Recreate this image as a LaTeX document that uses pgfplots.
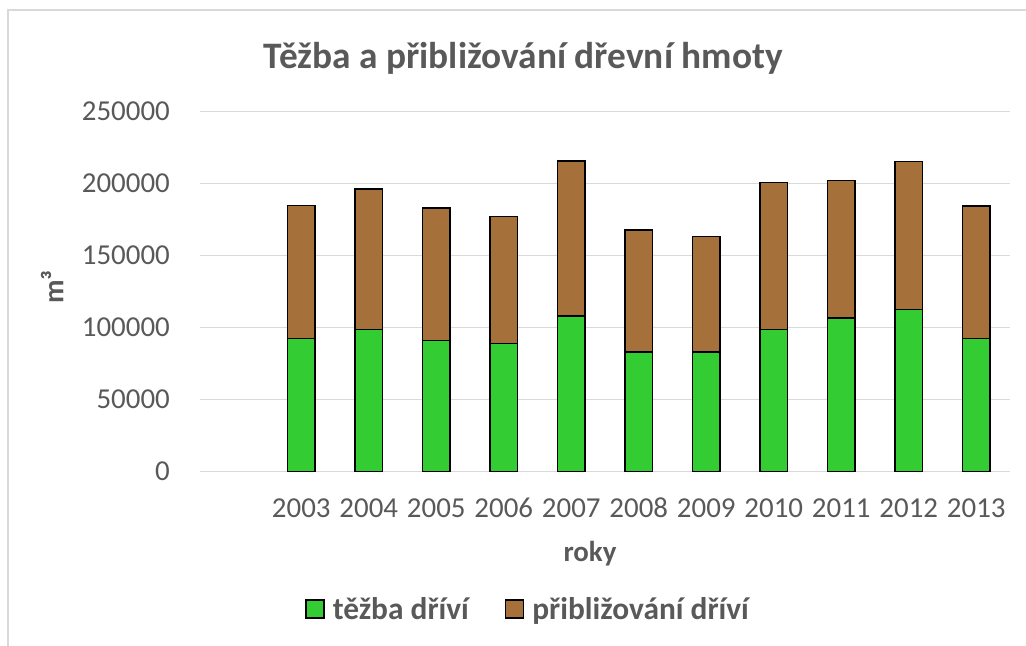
\documentclass[border=0pt]{standalone}
\usepackage{fontspec}
\setmainfont{Carlito}
\usepackage{pgfplots}
\usepackage{pgfplotstable}
\pgfplotsset{compat=1.18}
\definecolor{tgray}{HTML}{595959}
\definecolor{ggrid}{HTML}{D9D9D9}
\definecolor{bgreen}{HTML}{33CC33}
\definecolor{bbrown}{HTML}{A6703A}
\pgfplotstableread{
x green brown
1 92360 92340
2 98600 97700
3 91250 92050
4 88900 88200
5 108300 107400
6 83300 84700
7 83300 79900
8 98900 102100
9 106900 95200
10 112500 103000
11 92600 91900
}\datatable
\pgfplotsset{sqlegend/.style={legend image code/.code={\draw[##1,line width=1.5bp] (0bp,-9bp) rectangle (18bp,9bp); \path (24bp,0bp);}}}
\begin{document}
\begin{tikzpicture}[x=1bp,y=1bp]
\useasboundingbox (0,0) rectangle (1026,-646);
\draw[ggrid, line width=1.5bp] (8,-660) -- (8,-10) -- (1040,-10);
\begin{axis}[
  at={(200bp,-471.7bp)}, anchor=south west,
  width=810bp, height=360bp, scale only axis,
  ymin=0, ymax=250000, xmin=-0.5, xmax=11.5,
  ybar stacked, bar width=27.7bp,
  axis line style={draw=none},
  tick style={draw=none},
  ymajorgrids, grid style={ggrid, line width=1.3bp},
  ytick={0,50000,100000,150000,200000,250000},
  scaled y ticks=false,
  yticklabel style={/pgf/number format/fixed, /pgf/number format/1000 sep={}, inner sep=0pt, xshift=-30bp},
  /pgf/number format/assume math mode=true,
  ticklabel style={font=\fontsize{29}{34}\selectfont, text=tgray},
  xtick={1,2,3,4,5,6,7,8,9,10,11},
  xticklabels={2003,2004,2005,2006,2007,2008,2009,2010,2011,2012,2013},
  xticklabel style={inner sep=0pt, anchor=base, yshift=-45.6bp},
  legend columns=2,
  legend style={at={(0.405,-0.381)}, anchor=center, draw=none, fill=none,
    font=\fontsize{31.5}{36}\selectfont\bfseries, text=tgray,
    /tikz/every even column/.append style={column sep=34bp}},
]
\addplot[sqlegend, fill=bgreen, draw=black, line width=1.5bp] table[x=x, y=green] {\datatable};
\addlegendentry{těžba dříví}
\addplot[sqlegend, fill=bbrown, draw=black, line width=1.5bp] table[x=x, y=brown] {\datatable};
\addlegendentry{přibližování dříví}
\end{axis}
\node[anchor=base, text=tgray, font=\fontsize{37.5}{45}\selectfont\bfseries] at (523.3,-68.3) {Těžba a přibližování dřevní hmoty};
\node[anchor=base, text=tgray, font=\fontsize{29}{34}\selectfont\bfseries] at (590,-561) {roky};
\node[anchor=base, rotate=90, text=tgray, font=\fontsize{29}{34}\selectfont\bfseries] at (63.3,-287) {m³};
\end{tikzpicture}
\end{document}
